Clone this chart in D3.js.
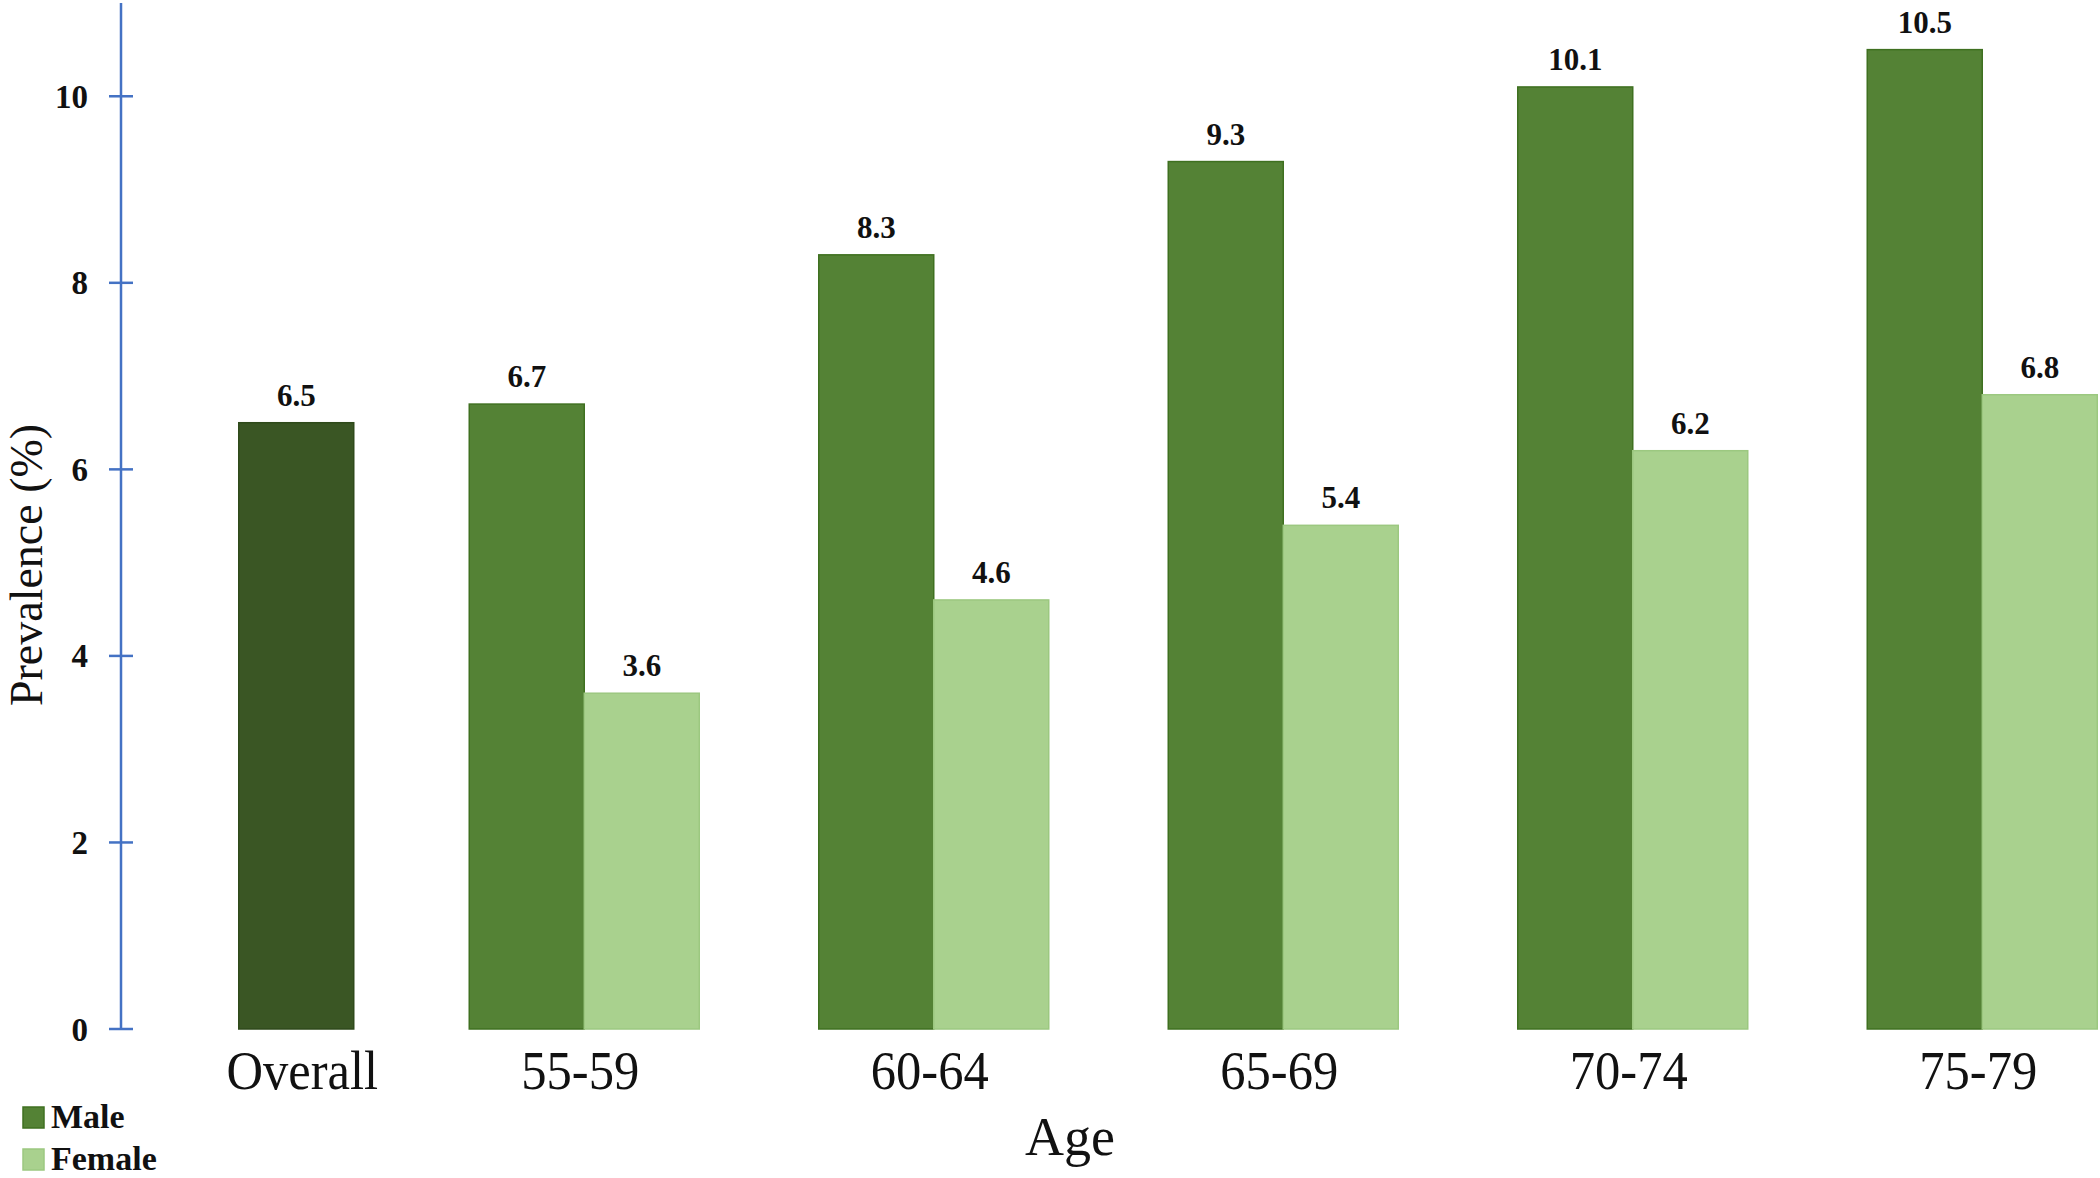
<!DOCTYPE html>
<html>
<head>
<meta charset="utf-8">
<script src="https://cdn.jsdelivr.net/npm/d3@7"></script>
<style>
	html, body { margin: 0; padding: 0; background: #fff; }
	svg { display: block; font-family: "Liberation Serif", "Times New Roman", serif; }
</style>
</head>
<body>
<svg id="chart" width="2100" height="1178"></svg>
<script>
// data
const ageGroups = ["Overall", "55-59", "60-64", "65-69", "70-74", "75-79"];
const overallValues = [6.5];
const maleValues = [6.7, 8.3, 9.3, 10.1, 10.5];
const femaleValues = [3.6, 4.6, 5.4, 6.2, 6.8];
const yTicks = [0, 2, 4, 6, 8, 10];
const legendItems = ["Male", "Female"];

const colors = {
	Overall: "#3a5624",
	Male: "#548235",
	Female: "#a9d18e"
};
const strokes = {
	Overall: "#2f4a1b",
	Male: "#3f7020",
	Female: "#9cc880"
};

const svg = d3.select("#chart");

const xScale = d3.scaleBand()
	.domain(ageGroups)
	.range([60, 2157])
	.paddingInner(0)
	.paddingOuter(0);
const barW = 115;
const x1 = d3.scaleBand()
	.domain(["Male", "Female"])
	.range([xScale.bandwidth() / 2 - barW, xScale.bandwidth() / 2 + barW]);

const yScale = d3.scaleLinear()
	.domain([0, 11])
	.range([1029, 3]);

// flatten to one row per bar; the overall bar sits in the second slot like the original
const bars = [];
overallValues.forEach(v => bars.push({ group: "Overall", series: "Overall", slot: "Female", value: v }));
ageGroups.slice(1).forEach((g, i) => {
	bars.push({ group: g, series: "Male", slot: "Male", value: maleValues[i] });
	bars.push({ group: g, series: "Female", slot: "Female", value: femaleValues[i] });
});

// overall bar is nudged a little right of the female slot
const barX = d => xScale(d.group) + x1(d.slot) + (d.series === "Overall" ? 4 : 0);

svg.append("g")
	.attr("class", "bars")
	.selectAll("rect")
	.data(bars)
	.enter().append("rect")
		.attr("x", d => barX(d))
		.attr("y", d => yScale(d.value))
		.attr("width", x1.bandwidth())
		.attr("height", d => yScale(0) - yScale(d.value))
		.attr("fill", d => colors[d.series])
		.attr("stroke", d => strokes[d.series])
		.attr("stroke-width", 1.5);

svg.append("g")
	.attr("class", "values")
	.selectAll("text")
	.data(bars)
	.enter().append("text")
		.attr("x", d => barX(d) + x1.bandwidth() / 2)
		.attr("y", d => yScale(d.value) - 17)
		.attr("text-anchor", "middle")
		.attr("font-size", 31)
		.attr("font-weight", "bold")
		.attr("fill", "#111")
		.text(d => d3.format(".1f")(d.value));

// y axis in blue with ticks crossing the line
const yAxis = svg.append("g").attr("class", "y axis");
yAxis.append("line")
	.attr("x1", 121).attr("x2", 121)
	.attr("y1", yScale(11)).attr("y2", yScale(0) + 1)
	.attr("stroke", "#4472c4")
	.attr("stroke-width", 2.5);
yAxis.selectAll(".tick")
	.data(yTicks)
	.enter().append("line")
		.attr("class", "tick")
		.attr("x1", 109).attr("x2", 133)
		.attr("y1", d => yScale(d)).attr("y2", d => yScale(d))
		.attr("stroke", "#4472c4")
		.attr("stroke-width", 2.5);
yAxis.selectAll("text")
	.data(yTicks)
	.enter().append("text")
		.attr("x", 88)
		.attr("y", d => yScale(d))
		.attr("dy", "0.35em")
		.attr("text-anchor", "end")
		.attr("font-size", 33)
		.attr("font-weight", "bold")
		.attr("fill", "#111")
		.text(d => d);

svg.append("text")
	.attr("transform", "translate(42,565) rotate(-90)")
	.attr("text-anchor", "middle")
	.attr("font-size", 46)
	.attr("fill", "#111")
	.text("Prevalence (%)");

// x labels: overall centred on its bar, the rest on the group
const xLabels = svg.append("g").attr("class", "x labels");
xLabels.selectAll("text")
	.data(ageGroups)
	.enter().append("text")
		.attr("transform", d => {
			const cx = d === "Overall"
				? xScale(d) + x1("Female") + x1.bandwidth() / 2 + 10
				: xScale(d) + xScale.bandwidth() / 2 - 4;
			return `translate(${cx},1089) scale(0.92,1)`;
		})
		.attr("text-anchor", "middle")
		.attr("font-size", 55)
		.attr("fill", "#111")
		.text(d => d);

svg.append("text")
	.attr("x", 1070)
	.attr("y", 1155)
	.attr("text-anchor", "middle")
	.attr("font-size", 54)
	.attr("fill", "#111")
	.text("Age");

// legend, bottom left
const legend = svg.append("g")
	.attr("class", "legend")
	.selectAll("g")
	.data(legendItems)
	.enter().append("g")
		.attr("transform", (d, i) => `translate(23,${1107 + i * 42})`);
legend.append("rect")
	.attr("width", 21)
	.attr("height", 21)
	.attr("fill", d => colors[d])
	.attr("stroke", d => strokes[d])
	.attr("stroke-width", 1.5);
legend.append("text")
	.attr("x", 28)
	.attr("y", 21)
	.attr("font-size", 34)
	.attr("font-weight", "bold")
	.attr("fill", "#111")
	.text(d => d);
</script>
</body>
</html>
